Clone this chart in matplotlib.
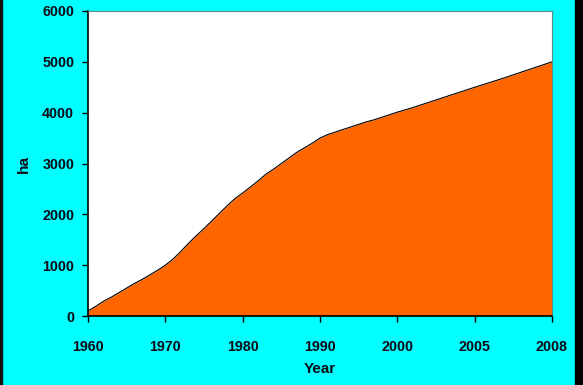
import numpy as np
import matplotlib
matplotlib.use("Agg")
import matplotlib.pyplot as plt
from matplotlib.patches import Rectangle

years = list(range(1960, 2009))
area_ha = [100, 190, 290, 370, 460, 550, 640, 720, 810, 900,
           1000, 1120, 1270, 1430, 1580, 1720, 1870, 2020, 2170, 2310,
           2420, 2540, 2660, 2790, 2890, 3000, 3110, 3220, 3310, 3400,
           3500, 3570, 3620, 3670, 3720, 3770, 3820, 3860, 3910, 3960,
           4010, 4100, 4200, 4300, 4400, 4500, 4660, 4830, 5000]
tick_years = [1960, 1970, 1980, 1990, 2000, 2005, 2008]
y_ticks = [0, 1000, 2000, 3000, 4000, 5000, 6000]

tick_pos = np.arange(len(tick_years), dtype=float)
def fwd(x):
    return np.interp(x, tick_years, tick_pos)
def inv(p):
    return np.interp(p, tick_pos, tick_years)

plt.rcParams['font.family'] = ['Liberation Sans', 'DejaVu Sans']

fig = plt.figure(figsize=(5.83, 3.85), dpi=100)
fig.patch.set_facecolor('#00FFFF')
ax = fig.add_axes([88/583, 1-316/385, (552-88)/583, (316-11)/385])
ax.set_facecolor('white')

ax.set_xscale('function', functions=(fwd, inv))
ax.fill_between(years, area_ha, 0, color='#FF6600', linewidth=0)
ax.plot(years, area_ha, color='black', linewidth=0.8)

ax.set_xlim(1960, 2008)
ax.set_ylim(0, 6000)
ax.set_xticks(tick_years)
ax.set_xticklabels([str(t) for t in tick_years])
ax.set_yticks(y_ticks)
ax.xaxis.set_minor_locator(matplotlib.ticker.NullLocator())

for lab in ax.get_xticklabels() + ax.get_yticklabels():
    lab.set_fontweight('bold')
    lab.set_fontsize(10.3)
    lab.set_color('#0a0a14')
ax.tick_params(axis='x', direction='out', length=4, width=1, pad=13)
ax.tick_params(axis='y', direction='out', length=4, width=1, pad=6)

ax.spines['left'].set_color('black')
ax.spines['bottom'].set_color('black')
ax.spines['left'].set_linewidth(1.2)
ax.spines['bottom'].set_linewidth(1.2)
ax.spines['top'].set_color('#5a8a8a')
ax.spines['right'].set_color('#5a8a8a')
ax.spines['top'].set_linewidth(0.8)
ax.spines['right'].set_linewidth(0.8)

fig.text(320/583, 1-369/385, 'Year', ha='center', va='center',
         fontsize=11, fontweight='bold', color='#0a0a14')
fig.text(24/583, 1-164/385, 'ha', ha='center', va='center', rotation=90,
         fontsize=11, fontweight='bold', color='#0a0a14')

# figure frame edges
fig.patches.append(Rectangle((0, 0), 2/583, 1, transform=fig.transFigure,
                             color='#111111', zorder=10))
fig.patches.append(Rectangle((575/583, 0), 8/583, 1, transform=fig.transFigure,
                             color='#000000', zorder=10))

fig.savefig('out.png', dpi=100, facecolor=fig.get_facecolor())
